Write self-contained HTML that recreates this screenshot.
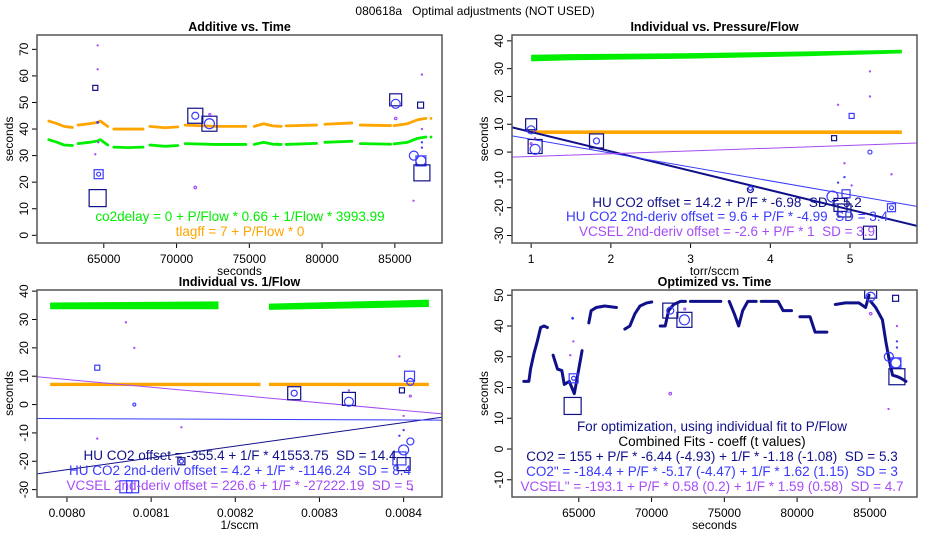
<!DOCTYPE html>
<html><head><meta charset="utf-8"><style>
body{margin:0;background:#fff}
svg{display:block;font-family:"Liberation Sans",Arial,sans-serif}
text{white-space:pre}
</style></head><body>
<svg id="c" width="950" height="550" viewBox="0 0 950 550">
<rect width="950" height="550" fill="#fff"/>
<text x="475" y="15" text-anchor="middle" font-size="12">080618a   Optimal adjustments (NOT USED)</text>
</svg>
<script>
// ---------- data ----------
const greenSegs=[
 [[61221,36],[61800,35],[62263,34],[62841,33.8]],
 [[63234,34.5],[64000,35],[64577,35.5],[64762,36],[65270,34]],
 [[65687,33.2],[66660,33],[67700,33.2]],
 [[68163,34],[69205,33.5],[70084,33.8]],
 [[70593,34.5],[72676,34.2],[74760,34.2]],
 [[75337,34.2],[75985,35],[76610,34.3],[77188,34.2]],
 [[77535,34.2],[79618,34.6]],
 [[80196,35],[82047,35.4]],
 [[82626,34.5],[84708,34.3]],
 [[84940,34.4],[85865,35],[86560,36.5],[87138,37]],
 [[87485,37],[87485,37]]];
const orangeSegs=[
 [[61221,43],[61800,42],[62263,41],[62841,40.6]],
 [[63234,41.5],[64000,42],[64577,42.5],[64762,43],[65270,41]],
 [[65687,40],[66660,40],[67700,40]],
 [[68163,41],[69205,40.5],[70084,40.8]],
 [[70593,41.5],[72676,41],[74760,41]],
 [[75337,41],[75985,42],[76610,41.2],[77188,41]],
 [[77535,41.2],[79618,41.5]],
 [[80196,41.8],[82047,42.3]],
 [[82626,41.5],[84708,41.3]],
 [[84940,41.3],[85865,42],[86560,43.5],[87138,44]],
 [[87485,44],[87485,44]]];
const optSegs=[
 [[61221,22],[61568,22],[61684,26],[61916,31],[62147,35],[62378,39.5],[62610,40],[62841,39.5]],
 [[63234,30.5],[63535,26],[63836,25.5],[64000,21],[64345,22],[64692,18],[64924,24],[65225,32]],
 [[65687,41],[65849,45],[66196,46],[66775,46.5],[67585,46]],
 [[68163,39],[68510,40],[68857,44],[69205,46.5],[69667,47.5],[70014,47.8]],
 [[70593,40],[70940,40],[71171,45],[71519,47],[71981,48],[72328,48]],
 [[72676,48],[74760,48]],
 [[75337,48],[75684,44],[75985,40],[76263,45],[76610,48],[77188,48]],
 [[77535,48],[78692,48],[79039,45],[79618,45]],
 [[80196,43],[80890,43],[81237,38],[82047,38]],
 [[82626,47],[83320,47.5],[84246,47.5],[84708,46],[84940,50]],
 [[85056,48],[85403,46],[85865,42],[86097,35],[86328,29],[86560,24],[86907,23.5],[87138,23],[87485,22]]];
const timeMarkers=[
 [64415,55.5,'s',5,'n'],[64646,23,'s',9,'b'],[64646,23,'c',4,'b'],[64577,14,'s',17,'n'],
 [71287,45,'s',15,'n'],[71287,45,'c',7,'b'],[72259,42,'s',15,'n'],[72259,42,'c',10,'b'],
 [85056,51,'s',12,'n'],[85056,49.5,'c',9,'b'],[86768,49,'s',6,'n'],[86305,30,'c',9,'b'],
 [86791,28,'c',10,'b'],[86791,28,'s',10,'b'],[86860,23.5,'s',16,'n'],[64577,42.5,'d',2,'b'],
 [64577,71.5,'d',1.5,'p'],[64577,62.5,'d',1.5,'p'],[64415,30.5,'d',1.5,'p'],[64623,35,'d',1.5,'p'],
 [71287,18,'c',2.5,'p'],[72282,45.5,'c',2,'p'],[85056,44,'c',2.5,'p'],[86282,13,'d',1.5,'p'],
 [86860,60.5,'d',1.5,'p'],[86860,40,'d',1.5,'p'],[86860,35,'d',1.5,'b'],[86860,33,'d',1.5,'b']];
const pfGreenX=[1.0,1.5,3.0,4.5,5.65], pfGreenLo=[32.6,33.0,33.6,34.5,35.5], pfGreenHi=[35.0,35.2,35.6,36.2,36.8];
const pfOrangeX=[1.0,5.65], pfOrangeLo=[6.5,6.5], pfOrangeHi=[7.8,7.8];
const pfFits=[[14.2,-6.98,'n',2],[9.6,-4.99,'b',1],[-2.6,1,'p',1]];
const pfMarkers=[
 [1.0,10,'s',11,'n'],[1.0,8,'c',8,'b'],[1.05,2,'s',14,'n'],[1.05,1,'c',10,'b'],[1.82,4,'s',14,'n'],[1.82,4,'c',6,'b'],
 [3.75,-13.5,'c',6,'n'],[3.75,-13,'c',4,'b'],[4.8,5,'s',5,'n'],[5.02,13,'s',5,'b'],[5.25,0,'c',4,'b'],[4.78,-16,'c',11,'b'],
 [4.95,-15,'s',8,'b'],[4.88,-19,'s',13,'n'],[4.93,-21,'s',13,'n'],[5.52,-20,'s',8,'b'],[5.52,-20,'c',4,'b'],[5.25,-29,'s',13,'n'],
 [5.25,29,'d',1.5,'p'],[5.25,20,'d',1.5,'p'],[4.85,17,'d',1.5,'p'],[4.93,-4,'d',1.5,'p'],[5.02,-12,'d',1.5,'p'],[5.52,-8,'d',1.5,'p'],
 [1.05,5,'d',1.5,'p'],[1.0,3,'c',2,'p'],[4.85,-11,'d',1.5,'b'],[4.93,-9,'d',1.5,'b']];
const ifGreen=[[[0.00798,0.00818],[33.6,33.6],[36.0,36.4]],[[0.00824,0.00843],[33.4,34.4],[35.6,37.0]]];
const ifOrange=[[[0.00798,0.00823],[6.5,6.5],[7.7,7.7]],[[0.00824,0.00843],[6.5,6.5],[7.7,7.7]]];
const ifFits=[[-355.4,41553.75,'n',1],[4.2,-1146.24,'b',1],[226.6,-27222.19,'p',1]];
const ifMarkers=[
 [0.008036,13,'s',5,'b'],[0.00808,0,'c',3,'b'],[0.00827,4,'s',13,'n'],[0.00827,4,'c',6,'b'],[0.008335,2,'s',13,'n'],[0.008335,1,'c',9,'b'],
 [0.008398,5,'s',5,'n'],[0.008407,10,'s',10,'b'],[0.008408,8,'c',7,'b'],[0.0084,-16,'c',10,'b'],[0.008408,-13,'c',7,'b'],
 [0.008395,-19,'s',13,'b'],[0.0084,-21,'s',13,'n'],[0.008136,-20,'s',7,'n'],[0.008136,-20,'c',4,'b'],[0.00807,-29,'s',12,'b'],[0.008078,-29,'s',12,'b'],
 [0.00807,29,'d',1.5,'p'],[0.00808,20,'d',1.5,'p'],[0.008036,-12,'d',1.5,'p'],[0.008136,-8,'d',1.5,'p'],[0.008335,5,'d',1.5,'p'],
 [0.008395,17,'d',1.5,'p'],[0.0084,-4,'d',1.5,'p'],[0.008408,3,'c',2,'p'],[0.00841,-30,'d',1.5,'p'],[0.008395,-11,'d',1.5,'b'],[0.0084,-9,'d',1.5,'b']];
const timeTicks=[65000,70000,75000,80000,85000];
const pfTicks=[1,2,3,4,5];
const ifTicks=[0.0080,0.0081,0.0082,0.0083,0.0084];
const ifTickLabels=['0.0080','0.0081','0.0082','0.0083','0.0084'];
const y1Ticks=[0,10,20,30,40,50,60,70], y2Ticks=[-30,-20,-10,0,10,20,30,40], y4Ticks=[-10,0,10,20,30,40,50];

// ---------- drawing ----------
const NS='http://www.w3.org/2000/svg', svg=document.getElementById('c');
const COL={n:'#10108a',b:'#3a3aff',p:'#a64cf5',g:'#00ee00',o:'#ffa500'};
function el(tag,attrs,parent,text){const e=document.createElementNS(NS,tag);for(const k in attrs)e.setAttribute(k,attrs[k]);if(text!==undefined)e.textContent=text;(parent||svg).appendChild(e);return e;}
function panel(name,box,xd,yd,title,xlab,xt,xtl,yt){
 const g=el('g',{},svg);
 
 
 const sx=v=>box.x0+(v-xd[0])/(xd[1]-xd[0])*(box.x1-box.x0);
 const sy=v=>box.y0+(yd[1]-v)/(yd[1]-yd[0])*(box.y1-box.y0);
 const t=el('text',{x:(box.x0+box.x1)/2,y:box.y0-4,'text-anchor':'middle','font-size':12.5,'font-weight':'bold'},g,title);
 
 
 const xa=el('g',{},g);
 
 
 xt.forEach((v,i)=>{const x=sx(v);el('line',{x1:x,x2:x,y1:box.y1,y2:box.y1+5,stroke:'#000'},xa);
  el('text',{x:x,y:box.y1+20,'text-anchor':'middle','font-size':12},xa,xtl?xtl[i]:String(v));});
 el('line',{x1:sx(xt[0]),x2:sx(xt[xt.length-1]),y1:box.y1,y2:box.y1,stroke:'#000'},xa);
 const xl=el('text',{x:(box.x0+box.x1)/2,y:box.y1+32,'text-anchor':'middle','font-size':12},g,xlab);
 
 
 const ya=el('g',{},g);
 
 
 yt.forEach(v=>{const y=sy(v);el('line',{x1:box.x0-5,x2:box.x0,y1:y,y2:y,stroke:'#000'},ya);
  el('text',{x:box.x0-9,y:y,'text-anchor':'middle','font-size':12,transform:`rotate(-90 ${box.x0-9} ${y})`},ya,String(v));});
 el('line',{x1:box.x0,x2:box.x0,y1:sy(yt[0]),y2:sy(yt[yt.length-1]),stroke:'#000'},ya);
 const cy=(box.y0+box.y1)/2, yl=el('text',{x:box.x0-24,y:cy,'text-anchor':'middle','font-size':12,transform:`rotate(-90 ${box.x0-24} ${cy})`},g,'seconds');
 
 
 const cid='clip'+name;
 const cp=el('clipPath',{id:cid},g);el('rect',{x:box.x0,y:box.y0,width:box.x1-box.x0,height:box.y1-box.y0},cp);
 const plot=el('g',{'clip-path':`url(#${cid})`},g);
 
 
 const frame=el('rect',{x:box.x0,y:box.y0,width:box.x1-box.x0,height:box.y1-box.y0,fill:'none',stroke:'#555','stroke-width':1.5},g);
 
 
 return {g,plot,sx,sy,box};
}
function drawSegs(P,segs,color,w,name){
 segs.forEach(s=>{const p=el('polyline',{points:s.map(d=>P.sx(d[0])+','+P.sy(d[1])).join(' '),fill:'none',stroke:color,'stroke-width':w,'stroke-linecap':'round','stroke-linejoin':'round'},P.plot);
  
  });
}
function drawMarkers(P,ms){
 ms.forEach(m=>{const x=P.sx(m[0]),y=P.sy(m[1]),c=COL[m[4]],r=m[3]/2;let e;
  if(m[2]==='s')e=el('rect',{x:x-r,y:y-r,width:2*r,height:2*r,fill:'none',stroke:c,'stroke-width':1.2},P.plot);
  else if(m[2]==='c')e=el('circle',{cx:x,cy:y,r:r,fill:'none',stroke:c,'stroke-width':1.2},P.plot);
  else e=el('circle',{cx:x,cy:y,r:m[3]/2+0.4,fill:c},P.plot);
  
  });
}
function drawBand(P,xs,lo,hi,color,name){
 const pts=xs.map((x,i)=>P.sx(x)+','+P.sy(hi[i])).concat(xs.slice().reverse().map((x,i)=>P.sx(x)+','+P.sy(lo[xs.length-1-i])));
 const e=el('polygon',{points:pts.join(' '),fill:color},P.plot);
 
 
}
function drawFits(P,fits,xd){
 fits.forEach(f=>{const e=el('line',{x1:P.sx(xd[0]),y1:P.sy(f[0]+f[1]*xd[0]),x2:P.sx(xd[1]),y2:P.sy(f[0]+f[1]*xd[1]),stroke:COL[f[2]],'stroke-width':f[3]},P.plot);
  
  });
}
function texts(P,cx,lines){
 lines.forEach(l=>{const e=el('text',{x:cx,y:l[1],'text-anchor':'middle','font-size':13.5,fill:l[2]},P.g,l[0]);
  
  });
}

// Panel 1
const tD=[60410,88240];
const P1=panel('additive-vs-time',{x0:37,x1:442,y0:35,y1:243},tD,[-2.9,75.4],'Additive vs. Time','seconds',timeTicks,null,y1Ticks);
drawSegs(P1,orangeSegs,COL.o,2.8,'tlagff-series');
drawSegs(P1,greenSegs,COL.g,2.8,'co2delay-series');
drawMarkers(P1,timeMarkers);
texts(P1,240,[['co2delay = 0 + P/Flow * 0.66 + 1/Flow * 3993.99',221,'#00ee00'],['tlagff = 7 + P/Flow * 0',236,'#ffa500']]);

// Panel 2
const pfD=[0.76,5.84];
const P2=panel('individual-vs-pressure-flow',{x0:512,x1:917,y0:35,y1:243},pfD,[-32.7,42.1],'Individual vs. Pressure/Flow','torr/sccm',pfTicks,null,y2Ticks);
drawBand(P2,pfGreenX,pfGreenLo,pfGreenHi,COL.g,'green-band');
drawBand(P2,pfOrangeX,pfOrangeLo,pfOrangeHi,COL.o,'orange-band');
drawFits(P2,pfFits,pfD);
drawMarkers(P2,pfMarkers);
texts(P2,727,[['HU CO2 offset = 14.2 + P/F * -6.98  SD = 5.2',207,'#10108a'],['HU CO2 2nd-deriv offset = 9.6 + P/F * -4.99  SD = 3.4',221,'#3a3aff'],['VCSEL 2nd-deriv offset = -2.6 + P/F * 1  SD = 3.9',236,'#a64cf5']]);

// Panel 3
const ifD=[0.0079644,0.0084456];
const P3=panel('individual-vs-1-flow',{x0:37,x1:442,y0:290,y1:497},ifD,[-32.6,40.4],'Individual vs. 1/Flow','1/sccm',ifTicks,ifTickLabels,y2Ticks);
ifGreen.forEach(b=>drawBand(P3,b[0],b[1],b[2],COL.g,'green-band'));
ifOrange.forEach(b=>drawBand(P3,b[0],b[1],b[2],COL.o,'orange-band'));
drawFits(P3,ifFits,ifD);
drawMarkers(P3,ifMarkers);
texts(P3,240,[['HU CO2 offset = -355.4 + 1/F * 41553.75  SD = 14.4',460,'#10108a'],['HU CO2 2nd-deriv offset = 4.2 + 1/F * -1146.24  SD = 8.4',475,'#3a3aff'],['VCSEL 2nd-deriv offset = 226.6 + 1/F * -27222.19  SD = 5',490,'#a64cf5']]);

// Panel 4
const P4=panel('optimized-vs-time',{x0:512,x1:917,y0:290,y1:497},tD,[-15.6,51.7],'Optimized vs. Time','seconds',timeTicks,null,y4Ticks);
drawSegs(P4,optSegs,COL.n,3,'optimized-series');
drawMarkers(P4,timeMarkers);
texts(P4,712,[['For optimization, using individual fit to P/Flow',431,'#10108a'],['Combined Fits - coeff (t values)',446,'#000'],['CO2 = 155 + P/F * -6.44 (-4.93) + 1/F * -1.18 (-1.08)  SD = 5.3',461,'#10108a'],['CO2" = -184.4 + P/F * -5.17 (-4.47) + 1/F * 1.62 (1.15)  SD = 3',476,'#3a3aff'],['VCSEL" = -193.1 + P/F * 0.58 (0.2) + 1/F * 1.59 (0.58)  SD = 4.7',491,'#a64cf5']]);
</script>
</body></html>
